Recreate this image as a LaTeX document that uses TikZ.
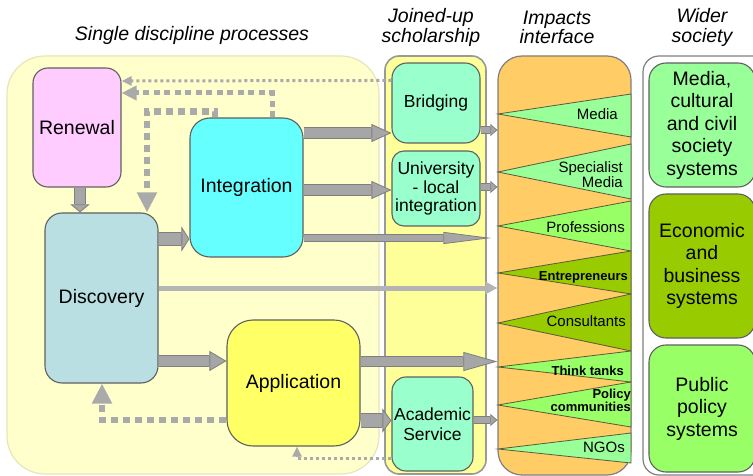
\documentclass[tikz,border=0pt]{standalone}
\usepackage{fontspec}
\setmainfont{Liberation Sans}
\usetikzlibrary{arrows.meta}
\definecolor{singlefill}{HTML}{FFFFCC}
\definecolor{singleline}{HTML}{E6E6B8}
\definecolor{joinfill}{HTML}{FFFF99}
\definecolor{joinline}{HTML}{999999}
\definecolor{impfill}{HTML}{FFCC66}
\definecolor{colline}{HTML}{808080}
\definecolor{boxline}{HTML}{606060}
\definecolor{renewfill}{HTML}{FFCCFF}
\definecolor{discfill}{HTML}{B9DFE3}
\definecolor{integfill}{HTML}{66FFFF}
\definecolor{appfill}{HTML}{FFFF66}
\definecolor{mintfill}{HTML}{99FFCC}
\definecolor{lmint}{HTML}{99FF99}
\definecolor{lgreen}{HTML}{99FF66}
\definecolor{dgreen}{HTML}{99CC00}
\definecolor{triline}{HTML}{5A5A3C}
\definecolor{arrowfill}{HTML}{A6A6A6}
\definecolor{arrowline}{HTML}{7F7F7F}
\definecolor{litegray}{HTML}{B4B4B4}
\definecolor{dotgray}{HTML}{AAAAAA}
\newcommand\mainsize{\fontsize{19.5}{22.5}\selectfont}
\newcommand\headsize{\fontsize{19.5}{19.5}\selectfont\itshape}
\newcommand\joinsize{\fontsize{17.5}{18.5}\selectfont}
\newcommand\trisize{\fontsize{15}{15}\selectfont}
\newcommand\tribold{\fontsize{13}{13}\selectfont\bfseries}

\begin{document}
\begin{tikzpicture}[x=1pt,y=-1pt,
	colbox/.style={draw=colline,line width=1.2pt,inner sep=0pt},
	box/.style={draw=boxline,line width=1.1pt,rounded corners=15pt,align=center,inner sep=0pt,font=\mainsize},
	jbox/.style={box,fill=mintfill,font=\joinsize},
	heading/.style={align=center,inner sep=0pt,font=\headsize},
	tri/.style={draw=triline,line width=0.8pt},
	trilabel/.style={anchor=east,align=right,inner sep=0pt,font=\trisize},
	blk/.style n args={3}{draw=arrowfill,line width=#1,
		-{Triangle[length=#3,width=#2,fill=arrowfill,color=arrowline,line width=0.8pt]},
		preaction={draw=arrowline,line width=#1+1.6pt,arrows=-,shorten >=#3}},
	lite/.style={draw=litegray,line width=5pt,-{Triangle[length=12pt,width=12pt]}},
	fbthin/.style={draw=dotgray,line width=3pt,dash pattern=on 3pt off 3pt,-{Triangle[length=10pt,width=9pt]}},
	fbmid/.style={draw=dotgray,line width=5pt,dash pattern=on 6pt off 4.5pt,-{Triangle[length=15pt,width=14pt]}},
	fbthick/.style={draw=dotgray,line width=6.5pt,dash pattern=on 7pt off 5pt,-{Triangle[length=20pt,width=19pt]}}]
\useasboundingbox (0,0) rectangle (753,476);

\node[colbox,fill=singlefill,draw=singleline,rounded corners=38pt,minimum width=372pt,minimum height=418pt] (single) at (193,265) {};
\node[colbox,fill=joinfill,draw=joinline,line width=1.6pt,rounded corners=14pt,minimum width=101pt,minimum height=418pt] (joined) at (435.5,265) {};
\node[colbox,fill=impfill,rounded corners=24pt,minimum width=133pt,minimum height=419pt] (impacts) at (564.5,265.5) {};
\foreach \a/\t/\b/\c in {114/94/137/lmint,172/144/199/lmint,226/201/251/lgreen,273/251/294/dgreen,323/294/351/dgreen,367/351/382/lgreen,405/382/427/lgreen,449/433/463/lmint}
{
	\filldraw[tri,fill=\c] (498,\a) -- (631,\t) -- (631,\b) -- cycle;
}
\node[colbox,fill=white,rounded corners=16pt,minimum width=130pt,minimum height=419pt] (wider) at (708,265.5) {};

\node[heading] (t-single) at (192,35) {Single discipline processes};
\node[heading] (t-joined) at (431,27.5) {Joined-up\\scholarship};
\node[heading] (t-impacts) at (557,27.5) {Impacts\\interface};
\node[heading] (t-wider) at (702,27.5) {Wider\\society};

\node[trilabel] (l-media) at (618,114) {Media};
\node[trilabel] (l-spec) at (623,174.5) {Specialist\\Media};
\node[trilabel] (l-prof) at (625,227) {Professions};
\node[trilabel,font=\tribold] (l-entr) at (628,277) {Entrepreneurs};
\node[trilabel] (l-cons) at (626,321) {Consultants};
\node[trilabel,font=\tribold] (l-think) at (624,371) {Think tanks};
\node[trilabel,font=\tribold] (l-policy) at (631,400.5) {Policy\\communities};
\node[trilabel] (l-ngo) at (625,447) {NGOs};

\node[box,fill=renewfill,minimum width=88pt,minimum height=119pt] (renewal) at (77,127.5) {Renewal};
\node[box,fill=discfill,rounded corners=17pt,minimum width=113pt,minimum height=170pt] (discovery) at (101.5,298) {Discovery};
\node[box,fill=integfill,rounded corners=20pt,minimum width=113pt,minimum height=139pt] (integration) at (246.5,187.5) {Integration};
\node[box,fill=appfill,rounded corners=26pt,minimum width=133pt,minimum height=126pt] (application) at (293.5,383) {Application};
\node[jbox,minimum width=88pt,minimum height=80pt] (bridging) at (436,103) {Bridging};
\node[jbox,rounded corners=12pt,minimum width=88pt,minimum height=75pt] (university) at (436,188.5) {University\\- local\\integration};
\node[jbox,rounded corners=14pt,minimum width=81pt,minimum height=94pt] (academic) at (432.5,424) {Academic\\[2pt]Service};
\node[box,fill=lmint,rounded corners=17pt,minimum width=106pt,minimum height=124pt] (media) at (702,125) {Media,\\cultural\\and civil\\society\\systems};
\node[box,fill=dgreen,rounded corners=17pt,minimum width=106pt,minimum height=144pt] (economic) at (702,266) {Economic\\and\\business\\systems};
\node[box,fill=lgreen,rounded corners=17pt,minimum width=106pt,minimum height=127pt] (public) at (702,408.5) {Public\\policy\\systems};

\draw[blk={10pt}{19pt}{8pt}] ([xshift=3pt]renewal.south) -- ([xshift=3pt]renewal.south |- discovery.north);
\draw[blk={12pt}{25pt}{8pt}] ([yshift=59pt]discovery.east) -- ([yshift=-51.5pt]integration.west);
\draw[blk={10pt}{20pt}{17pt}] ([yshift=-63pt]discovery.east) -- ([yshift=22pt]application.west);
\draw[lite] ([yshift=10pt]discovery.east) -- ([yshift=-22.5pt]impacts.west);
\draw[blk={10pt}{18pt}{20pt}] ([yshift=54.5pt]integration.east) -- ([yshift=-30pt]bridging.west);
\draw[blk={10pt}{18pt}{20pt}] ([yshift=-2.5pt]integration.east) -- ([yshift=-1.5pt]university.west);
\draw[blk={6pt}{12pt}{48pt}] ([yshift=-50.5pt]integration.east) -- ([xshift=-6pt,yshift=27.5pt]impacts.west);
\draw[blk={9pt}{19pt}{34pt}] ([yshift=21.5pt]application.east) -- ([yshift=-96pt]impacts.west);
\draw[blk={13pt}{24pt}{9pt}] ([yshift=-37.5pt]application.east) -- ([yshift=3.5pt]academic.west);
\draw[blk={6pt}{12pt}{7pt}] ([yshift=-27pt]bridging.east) -- ([yshift=135.5pt]impacts.west);
\draw[blk={6pt}{12pt}{7pt}] ([yshift=1.5pt]university.east) -- ([yshift=78.5pt]impacts.west);
\draw[blk={6pt}{12pt}{7pt}] ([yshift=4pt]academic.east) -- ([yshift=-154.5pt]impacts.west);

\draw[fbthin] ([yshift=-18pt]bridging.north west) -- ([yshift=46.5pt]renewal.east);
\draw[fbmid] ([xshift=25.5pt]integration.north) |- ([yshift=34.5pt]renewal.east);
\draw[fbthick] ([xshift=-31.5pt]integration.north) -- ++(0,-6) -| ([xshift=45.5pt]discovery.north);
\draw[fbthick] ([yshift=-37pt]application.west) -| ([xshift=0.5pt]discovery.south);
\draw[fbthin] ([yshift=-34pt]academic.west) -| ([xshift=3.5pt]application.south);
\end{tikzpicture}
\end{document}
